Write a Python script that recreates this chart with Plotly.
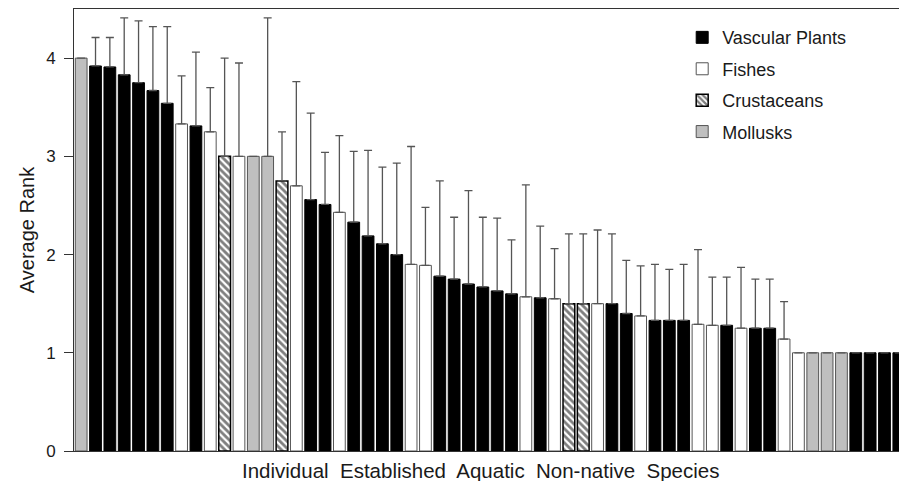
import plotly.graph_objects as go

# ---- data ----
groups = ["Mollusks", "Vascular Plants", "Vascular Plants", "Vascular Plants", "Vascular Plants",
          "Vascular Plants", "Vascular Plants", "Fishes", "Vascular Plants", "Fishes",
          "Crustaceans", "Fishes", "Mollusks", "Mollusks", "Crustaceans",
          "Fishes", "Vascular Plants", "Vascular Plants", "Fishes", "Vascular Plants",
          "Vascular Plants", "Vascular Plants", "Vascular Plants", "Fishes", "Fishes",
          "Vascular Plants", "Vascular Plants", "Vascular Plants", "Vascular Plants", "Vascular Plants",
          "Vascular Plants", "Fishes", "Vascular Plants", "Fishes", "Crustaceans",
          "Crustaceans", "Fishes", "Vascular Plants", "Vascular Plants", "Fishes",
          "Vascular Plants", "Vascular Plants", "Vascular Plants", "Fishes", "Fishes",
          "Vascular Plants", "Fishes", "Vascular Plants", "Vascular Plants", "Fishes",
          "Fishes", "Mollusks", "Mollusks", "Mollusks", "Vascular Plants",
          "Vascular Plants", "Vascular Plants", "Vascular Plants"]

average_rank = [4.00, 3.92, 3.91, 3.83, 3.75, 3.67, 3.54, 3.33, 3.31, 3.25,
                3.00, 3.00, 3.00, 3.00, 2.75, 2.70, 2.56, 2.51, 2.43, 2.33,
                2.19, 2.11, 2.00, 1.90, 1.89, 1.78, 1.75, 1.70, 1.67, 1.63,
                1.60, 1.57, 1.56, 1.55, 1.50, 1.50, 1.50, 1.50, 1.40, 1.375,
                1.33, 1.33, 1.33, 1.29, 1.28, 1.28, 1.25, 1.25, 1.25, 1.14,
                1.00, 1.00, 1.00, 1.00, 1.00, 1.00, 1.00, 1.00]

rank_sd = [None, 0.29, 0.30, 0.58, 0.63, 0.65, 0.78, 0.49, 0.75, 0.45,
           1.00, 0.95, None, 1.41, 0.50, 1.06, 0.88, 0.53, 0.78, 0.72,
           0.87, 0.78, 0.93, 1.20, 0.59, 0.97, 0.63, 0.95, 0.71, 0.74,
           0.55, 1.14, 0.73, 0.51, 0.71, 0.71, 0.75, 0.71, 0.54, 0.51,
           0.57, 0.52, 0.57, 0.76, 0.49, 0.49, 0.62, 0.50, 0.50, 0.38,
           None, None, None, None, None, None, None, None]

legend_order = ["Vascular Plants", "Fishes", "Crustaceans", "Mollusks"]
y_ticks = [0, 1, 2, 3, 4]
x_title = "Individual\u00a0 Established\u00a0 Aquatic\u00a0 Non-native\u00a0 Species"
y_title = "Average Rank"

styles = {
    "Vascular Plants": dict(color="black", line=dict(color="black", width=1)),
    "Fishes": dict(color="white", line=dict(color="#555555", width=1)),
    "Crustaceans": dict(color="white", line=dict(color="black", width=1.5),
                        pattern=dict(shape="\\", fgcolor="black", bgcolor="white",
                                     size=5, solidity=0.55)),
    "Mollusks": dict(color="#bfbfbf", line=dict(color="#555555", width=1)),
}

positions = list(range(1, len(average_rank) + 1))

fig = go.Figure()
for g in legend_order:
    idx = [i for i, gg in enumerate(groups) if gg == g]
    fig.add_trace(go.Bar(
        x=[positions[i] for i in idx],
        y=[average_rank[i] for i in idx],
        name=g,
        legendgroup=g,
        width=0.82,
        marker=styles[g],
        error_y=dict(type="data", symmetric=False,
                     array=[rank_sd[i] for i in idx],
                     arrayminus=[0] * len(idx),
                     color="#555555", thickness=1.3, width=4),
    ))

font_family = "Arial, Liberation Sans, sans-serif"
fig.update_layout(
    width=899, height=473,
    margin=dict(l=66, r=1, t=1, b=30),
    paper_bgcolor="white", plot_bgcolor="white",
    barmode="overlay",
    font=dict(family=font_family, color="#1a1a1a"),
    showlegend=True,
    legend=dict(x=0.731, y=0.977, xanchor="left", yanchor="top",
                font=dict(size=18, family=font_family, color="#1a1a1a"),
                bgcolor="rgba(0,0,0,0)", tracegroupgap=5,
                traceorder="grouped"),
    xaxis=dict(range=[0.5, len(average_rank) + 0.5], showticklabels=False,
               ticks="", showgrid=False, zeroline=False,
               showline=True, mirror=True, linecolor="#333333", linewidth=1),
    yaxis=dict(range=[0, 4.5], tickvals=y_ticks, ticks="outside", ticklen=9,
               tickcolor="#333333", tickfont=dict(size=17), ticklabelstandoff=5,
               showgrid=False, zeroline=False,
               showline=True, mirror=True, linecolor="#333333", linewidth=1,
               title=dict(text=y_title, font=dict(size=20), standoff=6)),
    annotations=[dict(text=x_title, xref="paper", yref="paper",
                      x=0.489, y=0, xanchor="center", yanchor="top", yshift=-6,
                      showarrow=False, font=dict(size=20.5, family=font_family,
                                                 color="#1a1a1a"))],
)

fig.write_html("out.html")
